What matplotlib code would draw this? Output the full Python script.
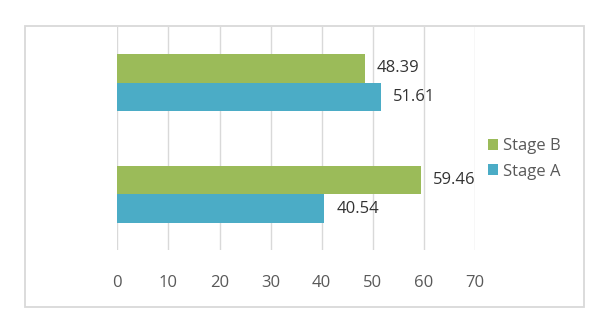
import numpy as np
import matplotlib.pyplot as plt
from matplotlib.patches import Rectangle

categories = ["1", "2"]           # bottom group, top group
stage_a = [40.54, 51.61]
stage_b = [59.46, 48.39]
series_names = ["Stage A", "Stage B"]
colors = ["#4BACC6", "#9BBB59"]
xticks = [0, 10, 20, 30, 40, 50, 60, 70]

plt.rcParams['font.family'] = ['Open Sans', 'DejaVu Sans']

fig = plt.figure(figsize=(6.13, 3.34), dpi=100)
ax = fig.add_axes([117.3 / 613, 84 / 334, (475 - 117.3) / 613, 223 / 334])

# chart border
fig.patches.append(Rectangle((25 / 613, 27 / 334), 559 / 613, 281 / 334,
                             transform=fig.transFigure, fill=False,
                             edgecolor="#D9D9D9", linewidth=1.3))

y = np.arange(len(categories))
h = 0.257
bars_a = ax.barh(y - h / 2, stage_a, height=h, color=colors[0], label=series_names[0])
bars_b = ax.barh(y + h / 2, stage_b, height=h, color=colors[1], label=series_names[1])

for bars in (bars_a, bars_b):
    for b in bars:
        w = b.get_width()
        ax.annotate(f"{w:.2f}", (w, b.get_y() + b.get_height() / 2),
                    xytext=(12, 0), textcoords="offset pixels",
                    va="center", ha="left", fontsize=12, color="#333333")

ax.set_xlim(0, 70)
ax.set_ylim(-0.5, 1.5)
ax.set_xticks(xticks)
ax.set_yticks([])
ax.grid(axis="x", color="#D9D9D9", linewidth=1)
ax.set_axisbelow(True)
for s in ax.spines.values():
    s.set_visible(False)
ax.tick_params(axis="x", length=0, pad=18, labelsize=12, labelcolor="#595959")

handles, labels = ax.get_legend_handles_labels()
ax.legend(handles[::-1], labels[::-1], loc="center left",
          bbox_to_anchor=(488 / 613, 175 / 334), bbox_transform=fig.transFigure,
          frameon=False, fontsize=12, labelcolor="#595959",
          handlelength=0.6, handleheight=0.6, handletextpad=0.3,
          labelspacing=0.55, borderpad=0, borderaxespad=0)

fig.savefig("out.png", dpi=100)
